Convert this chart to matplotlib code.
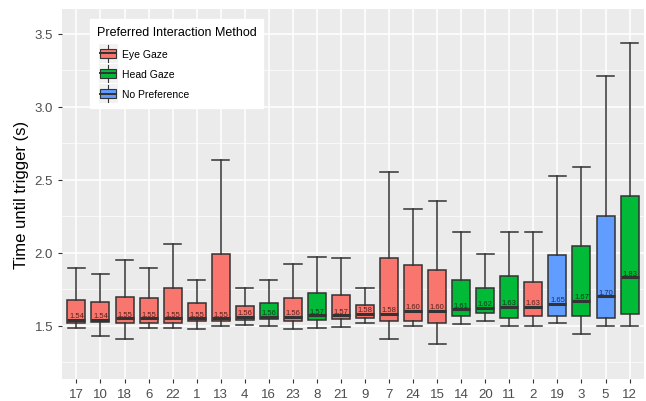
import numpy as np
import matplotlib.pyplot as plt
from matplotlib.patches import Rectangle
from matplotlib.lines import Line2D
from matplotlib.legend_handler import HandlerBase

plt.rcParams['font.family'] = ['Liberation Sans', 'DejaVu Sans']

# participants, ordered by median
participants = ['17', '10', '18', '6', '22', '1', '13', '4', '16', '23', '8', '21',
                '9', '7', '24', '15', '14', '20', '11', '2', '19', '3', '5', '12']
preference = ['Eye Gaze', 'Eye Gaze', 'Eye Gaze', 'Eye Gaze', 'Eye Gaze', 'Eye Gaze',
              'Eye Gaze', 'Eye Gaze', 'Head Gaze', 'Eye Gaze', 'Head Gaze', 'Eye Gaze',
              'Eye Gaze', 'Eye Gaze', 'Eye Gaze', 'Eye Gaze', 'Head Gaze', 'Head Gaze',
              'Head Gaze', 'Eye Gaze', 'No Preference', 'Head Gaze', 'No Preference', 'Head Gaze']
medians = [1.54, 1.54, 1.55, 1.55, 1.55, 1.55, 1.55, 1.56, 1.56, 1.56, 1.57, 1.57,
           1.58, 1.58, 1.60, 1.60, 1.61, 1.62, 1.63, 1.63, 1.65, 1.67, 1.70, 1.83]
q1 = [1.519, 1.526, 1.519, 1.519, 1.519, 1.529, 1.529, 1.540, 1.542, 1.529, 1.538, 1.542,
      1.553, 1.529, 1.529, 1.519, 1.565, 1.588, 1.553, 1.565, 1.565, 1.565, 1.553, 1.577]
q3 = [1.675, 1.661, 1.697, 1.686, 1.757, 1.654, 1.992, 1.631, 1.656, 1.688, 1.720, 1.711,
      1.643, 1.960, 1.914, 1.878, 1.812, 1.755, 1.837, 1.798, 1.981, 2.047, 2.250, 2.385]
whisker_low = [1.485, 1.428, 1.405, 1.485, 1.485, 1.474, 1.497, 1.503, 1.499, 1.474, 1.485, 1.488,
               1.519, 1.408, 1.499, 1.373, 1.508, 1.529, 1.497, 1.497, 1.519, 1.442, 1.497, 1.497]
whisker_high = [1.892, 1.855, 1.949, 1.892, 2.058, 1.812, 2.633, 1.757, 1.814, 1.923, 1.971, 1.960,
                1.755, 2.553, 2.296, 2.351, 2.139, 1.990, 2.139, 2.139, 2.522, 2.588, 3.207, 3.433]

colors = {'Eye Gaze': '#F8766D', 'Head Gaze': '#00BA38', 'No Preference': '#619CFF'}
text_colors = {'Eye Gaze': '#5a1f1b', 'Head Gaze': '#0b3d17', 'No Preference': '#1c2f5c'}
edge = '#333333'


class BoxKeyHandler(HandlerBase):
    def create_artists(self, legend, orig_handle, xdescent, ydescent, width, height, fontsize, trans):
        fill = orig_handle.get_facecolor()
        s = height * 1.3
        x0 = width / 2 - s / 2 - xdescent
        y0 = height / 2 - s / 2 - ydescent
        bg = Rectangle((x0, y0), s, s, facecolor='#F2F2F2', edgecolor='none', transform=trans)
        box = Rectangle((x0 + s * 0.08, y0 + s * 0.25), s * 0.84, s * 0.5,
                        facecolor=fill, edgecolor=edge, linewidth=0.8, transform=trans)
        cx = x0 + s / 2
        w1 = Line2D([cx, cx], [y0 + s * 0.05, y0 + s * 0.25], color=edge, lw=0.8, transform=trans)
        w2 = Line2D([cx, cx], [y0 + s * 0.75, y0 + s * 0.95], color=edge, lw=0.8, transform=trans)
        med = Line2D([x0 + s * 0.08, x0 + s * 0.92], [y0 + s / 2, y0 + s / 2], color=edge, lw=1.4, transform=trans)
        return [bg, box, w1, w2, med]


fig = plt.figure(figsize=(6.46, 4.02), dpi=100)
ax = fig.add_axes([62 / 646, 22 / 402, 582 / 646, 370 / 402])
ax.set_facecolor('#EBEBEB')

pos = np.arange(1, len(participants) + 1)
bxp_stats = []
for i, p in enumerate(participants):
    bxp_stats.append({'med': medians[i], 'q1': q1[i], 'q3': q3[i],
                      'whislo': whisker_low[i], 'whishi': whisker_high[i], 'fliers': []})

bp = ax.bxp(bxp_stats, positions=pos, widths=0.75, patch_artist=True, showfliers=False,
            boxprops=dict(edgecolor=edge, linewidth=1.1),
            medianprops=dict(color=edge, linewidth=2.2),
            whiskerprops=dict(color=edge, linewidth=1.1),
            capprops=dict(color=edge, linewidth=1.1),
            capwidths=0.72, zorder=3)
for patch, pref in zip(bp['boxes'], preference):
    patch.set_facecolor(colors[pref])

for i, m in enumerate(medians):
    ax.text(pos[i], m + 0.005, f'{m:.2f}', ha='center', va='bottom', fontsize=5.5,
            color=text_colors[preference[i]], zorder=4)

ax.set_xlim(0.4, 24.6)
ax.set_ylim(1.134, 3.668)
ax.set_xticks(pos)
ax.set_xticklabels(participants)
ax.set_yticks([1.5, 2.0, 2.5, 3.0, 3.5])
ax.set_yticklabels(['1.5', '2.0', '2.5', '3.0', '3.5'])
ax.set_yticks([1.25, 1.75, 2.25, 2.75, 3.25], minor=True)
ax.grid(True, which='major', color='white', linewidth=1.1, zorder=0)
ax.grid(True, which='minor', axis='y', color='white', linewidth=0.5, zorder=0)
ax.set_axisbelow(True)
for s in ax.spines.values():
    s.set_visible(False)
ax.tick_params(axis='both', which='major', colors='#333333', labelcolor='#4D4D4D',
               labelsize=9.5, length=3, width=0.8)
ax.tick_params(axis='y', which='minor', length=0)
ax.set_ylabel('Time until trigger (s)', fontsize=12, color='black', labelpad=4)

handles = [Rectangle((0, 0), 1, 1, facecolor=colors[k]) for k in colors]
leg = ax.legend(handles, list(colors.keys()), handler_map={Rectangle: BoxKeyHandler()},
                title='Preferred Interaction Method', loc='upper left',
                bbox_to_anchor=(0.048, 0.973), fontsize=7.5, title_fontsize=9,
                frameon=True, fancybox=False, framealpha=1, edgecolor='white',
                handlelength=2.2, handleheight=1.75, handletextpad=0.25,
                labelspacing=0.55, borderpad=0.65, borderaxespad=0)
leg._legend_box.align = 'left'
leg._legend_box.sep = 6
leg.set_zorder(5)

fig.savefig('out.png', dpi=100)
